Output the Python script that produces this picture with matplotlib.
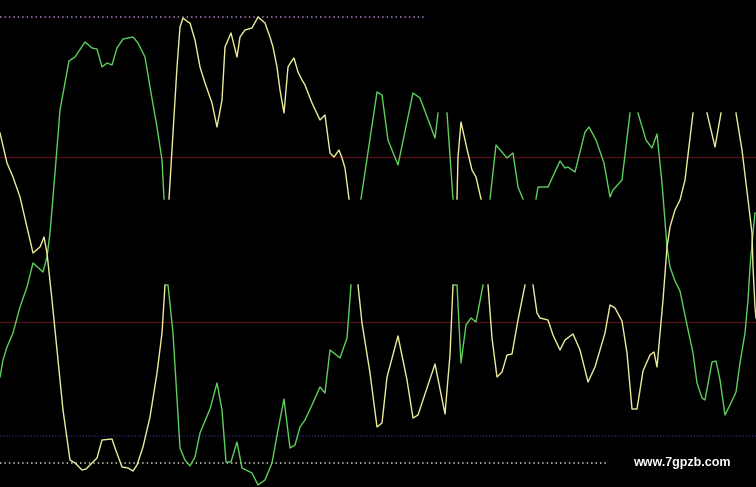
import numpy as np
import matplotlib
matplotlib.use("Agg")
import matplotlib.pyplot as plt

N = None  # segment break

# Yellow series (x, level) - level measured downward from top of chart
yellow_x = [0, 7, 13, 20, 27, 33, 40, 44, 47, 52, 57, 63, 70, 75, 82, 86, 92, 97, 102, 112, 115, 122, 128, 133, 137, 143, 150, 157, 162, 165, N,
            169, 173, 177, 180, 183, 188, 190, 195, 200, 205, 212, 217, 222, 225, 231, 237, 240, 245, 252, 258, 265, 270, 273, 277, 280, 284, 288, 291, 294, 298, 302, 305, 312, 320, 325, 330, 334, 339, 342, 345, 349, N,
            358, 362, 370, 377, 382, 387, 398, 407, 413, 418, 435, 445, 450, 453, N,
            457, 458, 461, 467, 472, 476, 481, N,
            488, 492, 497, 502, 507, 512, 518, 525, N,
            533, 537, 540, 548, 553, 560, 565, 573, 580, 588, 595, 605, 610, 615, 622, 627, 632, 637, 643, 650, 654, 657, 660, 663, 667, 670, 675, 680, 685, 693, N,
            707, 715, 721, N,
            736, 742, 748, 752, 753, 755, 756]
yellow_y = [133, 163, 177, 197, 227, 253, 247, 237, 253, 300, 350, 410, 460, 463, 470, 469, 463, 458, 440, 439, 448, 467, 468, 471, 465, 447, 417, 373, 333, 285, N,
            199, 133, 67, 27, 18, 22, 23, 40, 67, 83, 103, 127, 100, 47, 33, 57, 37, 30, 28, 17, 23, 37, 47, 67, 90, 113, 67, 62, 58, 72, 80, 85, 103, 120, 115, 153, 157, 150, 158, 168, 199, N,
            285, 323, 373, 427, 423, 377, 336, 380, 418, 415, 364, 414, 355, 285, N,
            199, 157, 122, 149, 170, 177, 199, N,
            285, 338, 377, 372, 355, 354, 320, 285, N,
            285, 313, 318, 320, 335, 350, 340, 334, 350, 382, 367, 333, 305, 308, 321, 353, 409, 409, 371, 355, 352, 367, 333, 300, 247, 227, 210, 200, 180, 113, N,
            113, 147, 113, N,
            113, 150, 200, 233, 267, 307, 318]

# Green series
green_x = [0, 3, 7, 13, 20, 27, 33, 43, 47, 50, 55, 60, 65, 69, 75, 85, 92, 97, 102, 107, 112, 117, 123, 128, 133, 138, 145, 150, 157, 162, 164, N,
           166, 168, 173, 180, 185, 190, 195, 200, 210, 217, 222, 226, 231, 237, 242, 252, 258, 265, 272, 278, 284, 290, 295, 300, 305, 312, 320, 325, 330, 340, 347, 351, N,
           361, 377, 382, 388, 398, 413, 420, 435, 438, N,
           447, 453, N,
           454, 457, 461, 466, 471, 476, 483, N,
           490, 496, 502, 507, 513, 518, 523, N,
           536, 538, 548, 560, 565, 568, 575, 585, 589, 596, 604, 610, 613, 622, 630, N,
           638, 646, 652, 657, 662, 667, 670, 675, 680, 687, 693, 697, 702, 705, 712, 716, 720, 725, 730, 736, 740, 745, 748, 750, 753, 755, 756]
green_y = [377, 360, 347, 333, 307, 287, 263, 272, 257, 233, 173, 110, 83, 61, 57, 42, 48, 49, 67, 63, 65, 48, 39, 38, 37, 43, 57, 87, 127, 160, 199, N,
           285, 285, 333, 448, 460, 466, 457, 433, 409, 383, 410, 462, 462, 442, 468, 473, 485, 480, 463, 430, 399, 448, 445, 427, 420, 405, 387, 393, 350, 358, 338, 285, N,
           199, 92, 95, 140, 165, 93, 98, 138, 113, N,
           113, 199, N,
           285, 285, 363, 325, 318, 322, 285, N,
           199, 145, 152, 158, 153, 187, 199, N,
           199, 187, 187, 161, 168, 167, 172, 132, 127, 140, 163, 197, 190, 180, 113, N,
           113, 140, 148, 134, 183, 247, 267, 281, 291, 325, 353, 383, 398, 400, 362, 361, 380, 415, 405, 392, 363, 333, 300, 267, 233, 213, 213]

# Reference levels
red_levels = [157, 322]
magenta_level, magenta_end = 17, 425
white_level, white_end = 463, 607
blue_level = 436

watermark = "www.7gpzb.com"


def arr(v):
    return np.array([np.nan if a is None else a for a in v], dtype=float)


plt.rcParams['lines.scale_dashes'] = False
fig = plt.figure(figsize=(7.56, 4.87), dpi=100, facecolor='black')
ax = fig.add_axes([0, 0, 1, 1])
ax.set_facecolor('black')
ax.set_xlim(0, 756)
ax.set_ylim(487, 0)
ax.axis('off')

for lv in red_levels:
    ax.axhline(lv, color='#4e1010', lw=1.0)
ax.plot([0, magenta_end], [magenta_level] * 2, color='#a878b8', lw=1.2, dashes=(1, 2.2))
ax.plot([0, white_end], [white_level] * 2, color='#c8c8b8', lw=1.2, dashes=(1, 2.2))
ax.axhline(blue_level, color='#20205a', lw=1.2, dashes=(1, 1.2))

ax.plot(arr(green_x), arr(green_y), color='#5ccf5c', lw=1.0, solid_joinstyle='round')
ax.plot(arr(yellow_x), arr(yellow_y), color='#ecec9c', lw=1.0, solid_joinstyle='round')

ax.text(682, 463, watermark, color='white', fontsize=9, fontweight='bold',
        family='Liberation Sans', ha='center', va='center')

fig.savefig('out.png', dpi=100, facecolor='black')
